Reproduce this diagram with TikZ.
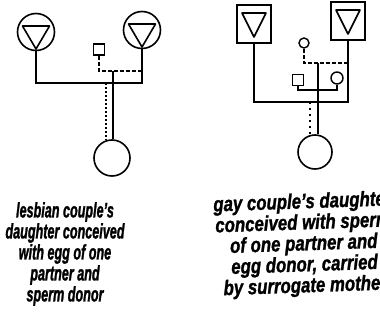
\documentclass[tikz,border=0pt]{standalone}
\usepackage{fontspec}
\setmainfont{Liberation Sans}
\newfontfamily\capleft[FakeStretch=0.6, FakeBold=1.2]{Liberation Sans}
\newfontfamily\capright[FakeStretch=0.8, FakeBold=1.2]{Liberation Sans}
\usepackage{tikz}
\usetikzlibrary{positioning,calc}
\tikzset{
  mother/.style={draw, circle, line width=1.6pt, minimum size=37pt, inner sep=0pt},
  father/.style={draw, rectangle, line width=1.6pt, minimum width=34pt, minimum height=38pt, inner sep=0pt},
  kid/.style={draw, circle, line width=1.6pt, minimum size=36pt, inner sep=0pt},
  smallsq/.style={draw, rectangle, line width=1.4pt, minimum size=11pt, inner sep=0pt},
  smallci/.style={draw, circle, line width=1.4pt, minimum size=11pt, inner sep=0pt},
  link/.style={line width=1.6pt},
  dlink/.style={line width=1.4pt, dash pattern=on 4pt off 2pt},
  dotlink/.style={line width=1.4pt, dash pattern=on 2pt off 4pt},
  capl/.style={align=center, inner sep=0pt, anchor=north, font=\capleft\bfseries\itshape\fontsize{21}{21}\selectfont},
  capr/.style={align=center, inner sep=0pt, anchor=north, font=\capright\bfseries\itshape\fontsize{21}{21}\selectfont},
}
\begin{document}
\begin{tikzpicture}[x=1pt, y=-1pt]
\useasboundingbox (0,0) rectangle (380,332);
% lesbian couple
\node[mother] (momA) at (36,32) {};
\node[mother] (momB) at (142,30) {};
\draw[line width=1.6pt, line join=round] ($(momA)+(-13.5,-6)$) -- ($(momA)+(13.5,-6)$) -- ($(momA)+(0,17)$) -- cycle;
\draw[line width=1.6pt, line join=round] ($(momB)+(-13.5,-6)$) -- ($(momB)+(13.5,-6)$) -- ($(momB)+(0,17)$) -- cycle;
\node[smallsq] (spdonor) at (99,49.5) {};
\node[kid] (kidL) at (112,158) {};
\coordinate (jL) at (113,83);
\coordinate (dL) at (113,71);
\coordinate (eL) at (106,83);
\draw[link] (momA) |- (jL) -| (momB);
\draw[dlink] (spdonor) |- (dL) -- (momB |- dL);
\draw[link] (dL) -- (dL |- kidL.north);
\draw[dlink, dash pattern=on 2pt off 2pt] (eL) -- (eL |- kidL.north);
% gay couple
\node[father] (dadA) at (254,24) {};
\node[father] (dadB) at (348,21) {};
\draw[line width=1.6pt, line join=round] ($(dadA)+(-12,-11)$) -- ($(dadA)+(12,-11)$) -- ($(dadA)+(0,13)$) -- cycle;
\draw[line width=1.6pt, line join=round] ($(dadB)+(-12,-11)$) -- ($(dadB)+(12,-11)$) -- ($(dadB)+(0,13)$) -- cycle;
\node[smallci, minimum size=10pt] (egg) at (304,43) {};
\node[smallsq] (surp) at (298,80) {};
\node[smallci, minimum size=12pt] (surm) at (337,78) {};
\node[kid, minimum size=34pt] (kidR) at (315,152) {};
\coordinate (jR) at (318,102);
\coordinate (dR) at (318,63);
\coordinate (uR) at (318,90);
\coordinate (eR) at (310,102);
\draw[link] (dadA) |- (jR) -| (dadB);
\draw[dlink] (egg) |- (dR) -- (dadB |- dR);
\draw[link] (dR) -- (dR |- kidR.north);
\draw[link, line width=1.3pt] (surp) |- (uR) -| (surm);
\draw[dotlink] (eR) -- (eR |- kidR.north);
% captions
\node[capl] (capL) at (65,202) {lesbian couple’s\\daughter conceived\\with egg of one\\partner and\\sperm donor};
\node[capr, rotate=2] (capR) at (302,193) {gay couple’s daughter\\conceived with sperm\\of one partner and\\egg donor, carried\\by surrogate mother};
\end{tikzpicture}
\end{document}
